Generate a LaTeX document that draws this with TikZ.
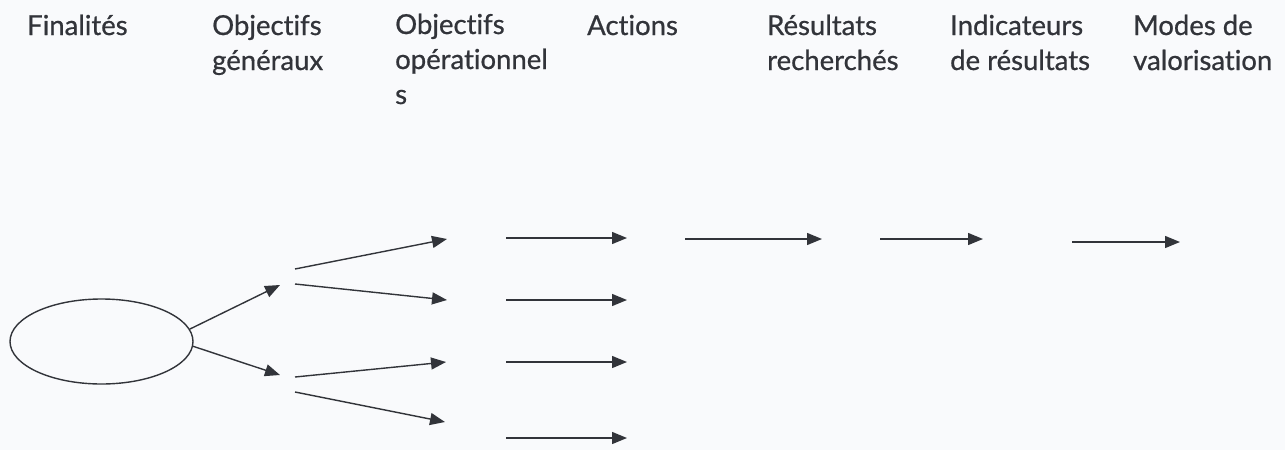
\documentclass[tikz,border=0pt]{standalone}
\usepackage{fontspec}
\setmainfont{Lato}
\newfontfamily\headfont[FakeBold=0.7,Ligatures={NoCommon}]{Lato}
\usepackage{xcolor}
\usetikzlibrary{arrows.meta,shapes.geometric,positioning}

\definecolor{inkgray}{RGB}{50,52,58}
\definecolor{papergray}{RGB}{249,250,252}

\tikzset{
  head/.style={anchor=base west, inner sep=0pt, align=left, text=inkgray,
    font=\headfont\fontsize{27.5}{35}\selectfont},
  link/.style={draw=inkgray, line width=1.4pt,
    -{Triangle[length=15pt,width=12pt]}},
  goal/.style={draw=inkgray, line width=1.4pt, ellipse, inner sep=0pt,
    minimum width=183pt, minimum height=85pt}
}

\begin{document}
\begin{tikzpicture}[x=1pt,y=-1pt]
            \fill[papergray] (0,0) rectangle (1285,450);
            \useasboundingbox (0,0) rectangle (1285,450);

            % column titles (placed at the baseline of their last line)
            \node[head] (finalites) at (27,35) {Finalités};
            \node[head] (objgen) at (212,70) {Objectifs\\généraux};
            \node[head] (objop) at (395,104) {Objectifs\\opérationnel\\s};
            \node[head] (actions) at (587,35) {Actions};
            \node[head] (resultats) at (767,70) {Résultats\\recherchés};
            \node[head] (indicateurs) at (950,70) {Indicateurs\\de résultats};
            \node[head] (modes) at (1133,70) {Modes de\\valorisation};

            % finalite
            \node[goal] (fin) at (101.5,341.5) {};

            % objectifs generaux
            \coordinate (gA) at (280,285);
            \coordinate (gB) at (280,375);
            \draw[link] (fin.8) -- (gA);
            \draw[link] (fin.-3) -- (gB);

            % objectifs operationnels
            \coordinate (oA) at (295,269);
            \coordinate (oB) at (295,284);
            \coordinate (oC) at (295,377);
            \coordinate (oD) at (295,392);
            \coordinate (oA') at (447,239);
            \coordinate (oB') at (447,300);
            \coordinate (oC') at (446,362);
            \coordinate (oD') at (445,422);
            \draw[link] (oA) -- (oA');
            \draw[link] (oB) -- (oB');
            \draw[link] (oC) -- (oC');
            \draw[link] (oD) -- (oD');

            % actions
            \coordinate (aA) at (506,238);
            \coordinate (aB) at (506,300);
            \coordinate (aC) at (506,362);
            \coordinate (aD) at (506,438);
            \coordinate (aA') at (627,238);
            \coordinate (aB') at (627,300);
            \coordinate (aC') at (627,362);
            \coordinate (aD') at (627,438);
            \draw[link] (aA) -- (aA');
            \draw[link] (aB) -- (aB');
            \draw[link] (aC) -- (aC');
            \draw[link] (aD) -- (aD');

            % resultats, indicateurs, valorisation
            \coordinate (r) at (685,239);
            \coordinate (r') at (822,239);
            \coordinate (i) at (880,239);
            \coordinate (i') at (983,239);
            \coordinate (m) at (1072,242);
            \coordinate (m') at (1180,242);
            \draw[link] (r) -- (r');
            \draw[link] (i) -- (i');
            \draw[link] (m) -- (m');
        \end{tikzpicture}
\end{document}
